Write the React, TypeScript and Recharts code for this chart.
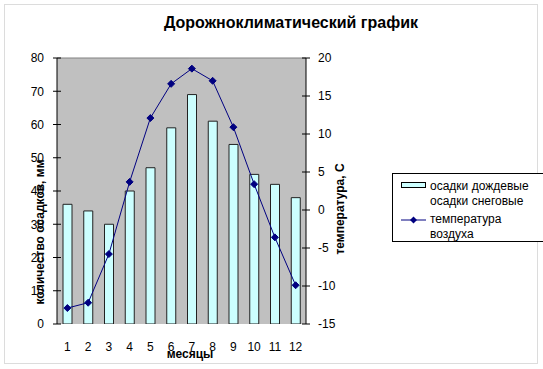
import React from 'react';
import { ComposedChart, Bar, Line, XAxis, YAxis, CartesianGrid, ReferenceLine } from 'recharts';

const months = ['1', '2', '3', '4', '5', '6', '7', '8', '9', '10', '11', '12'];
const precipitation = [36, 34, 30, 40, 47, 59, 69, 61, 54, 45, 42, 38];
const temperature = [-12.9, -12.2, -5.8, 3.7, 12.1, 16.6, 18.6, 17, 10.9, 3.4, -3.6, -9.9];
const precipTicks = [0, 10, 20, 30, 40, 50, 60, 70, 80];
const tempTicks = [-15, -10, -5, 0, 5, 10, 15, 20];
const boundaryTicks = [0, 1, 2, 3, 4, 5, 6, 7, 8, 9, 10, 11, 12];

const data = months.map((m, i) => ({ month: m, precip: precipitation[i], temp: temperature[i] }));

const FONT = 'Arial, "Liberation Sans", sans-serif';
const NAVY = '#000080';
const TICK_SIZE = 5;
const TICK_GAP = 8;

const Diamond = (props: any) => {
  const { cx, cy, index } = props;
  if (cx == null || cy == null) return <g key={`d-${index}`} />;
  const r = 3.5;
  return (
    <path
      key={`d-${index}`}
      d={`M${cx},${cy - r}L${cx + r},${cy}L${cx},${cy + r}L${cx - r},${cy}Z`}
      fill={NAVY}
      stroke={NAVY}
    />
  );
};

// ticks that cross the axis line, the way Excel draws them
const leftTick = (p: any) => {
  const ax = p.x + TICK_SIZE + TICK_GAP;
  return (
    <g>
      <line x1={ax - 4} x2={ax + 4} y1={p.y} y2={p.y} stroke="#000" />
      <text x={p.x} y={p.y} dy="0.355em" textAnchor="end" fontSize={12} fontFamily={FONT} fill="#000">
        {p.payload.value}
      </text>
    </g>
  );
};

const rightTick = (p: any) => {
  const ax = p.x - TICK_SIZE - TICK_GAP;
  return (
    <g>
      <line x1={ax - 4} x2={ax + 4} y1={p.y} y2={p.y} stroke="#000" />
      <text x={p.x - 1} y={p.y} dy="0.355em" textAnchor="start" fontSize={12} fontFamily={FONT} fill="#000">
        {p.payload.value}
      </text>
    </g>
  );
};

const boundaryTick = (p: any) => {
  const ay = p.y - 0 - 0;
  return <line x1={p.x} x2={p.x} y1={ay - 4} y2={ay + 4} stroke="#000" />;
};

export default function App() {
  return (
    <div
      style={{
        position: 'absolute',
        left: 0,
        top: 0,
        width: 543,
        height: 369,
        overflow: 'hidden',
        background: '#fff',
        fontFamily: FONT,
      }}
    >
      {/* outer chart frame */}
      <div
        style={{
          position: 'absolute',
          left: 4,
          top: 4,
          width: 532,
          height: 358,
          border: '1px solid #dcdcdc',
        }}
      />

      <div
        style={{
          position: 'absolute',
          left: 0,
          top: 14,
          width: 582,
          textAlign: 'center',
          fontSize: 16,
          fontWeight: 'bold',
          color: '#000',
        }}
      >
        Дорожноклиматический график
      </div>

      <div style={{ position: 'absolute', left: 0, top: 0 }}>
        <ComposedChart
          width={543}
          height={369}
          data={data}
          margin={{ top: 58, left: 17, right: 197, bottom: 15 }}
        >
          <CartesianGrid xAxisId="cat" yAxisId="p" fill="#c0c0c0" horizontal={false} vertical={false} />
          <ReferenceLine yAxisId="p" xAxisId="cat" y={80} stroke="#808080" />
          <XAxis
            xAxisId="grid"
            type="number"
            domain={[0, 12]}
            ticks={boundaryTicks}
            height={0}
            tickSize={0}
            tickMargin={0}
            tick={boundaryTick}
            tickLine={false}
            axisLine={{ stroke: '#000' }}
            allowDataOverflow
          />
          <XAxis
            xAxisId="cat"
            dataKey="month"
            height={30}
            axisLine={false}
            tickLine={false}
            tickSize={0}
            tickMargin={18}
            tick={{ fill: '#000', fontSize: 12, fontFamily: FONT }}
            interval={0}
          />
          <YAxis
            yAxisId="p"
            domain={[0, 80]}
            ticks={precipTicks}
            width={40}
            tickSize={TICK_SIZE}
            tickMargin={TICK_GAP}
            tick={leftTick}
            tickLine={false}
            axisLine={{ stroke: '#000' }}
            allowDataOverflow
          />
          <YAxis
            yAxisId="t"
            orientation="right"
            domain={[-15, 20]}
            ticks={tempTicks}
            width={40}
            tickSize={TICK_SIZE}
            tickMargin={TICK_GAP}
            tick={rightTick}
            tickLine={false}
            axisLine={{ stroke: '#000' }}
            allowDataOverflow
          />
          <Bar
            xAxisId="cat"
            yAxisId="p"
            dataKey="precip"
            barSize={9}
            fill="#ccffff"
            stroke="#222"
            strokeWidth={1}
            isAnimationActive={false}
          />
          <Line
            xAxisId="cat"
            yAxisId="t"
            dataKey="temp"
            type="linear"
            stroke={NAVY}
            strokeWidth={1}
            dot={Diamond}
            activeDot={false}
            isAnimationActive={false}
          />
        </ComposedChart>
      </div>

      {/* axis titles */}
      <div
        style={{
          position: 'absolute',
          left: 40,
          top: 232,
          transform: 'translate(-50%, -50%) rotate(-90deg)',
          whiteSpace: 'nowrap',
          fontSize: 12,
          fontWeight: 'bold',
          color: '#000',
        }}
      >
        количество осадков, мм
      </div>
      <div
        style={{
          position: 'absolute',
          left: 340,
          top: 209,
          transform: 'translate(-50%, -50%) rotate(-90deg)',
          whiteSpace: 'nowrap',
          fontSize: 12,
          fontWeight: 'bold',
          color: '#000',
        }}
      >
        температура, С
      </div>
      <div
        style={{
          position: 'absolute',
          left: 190,
          top: 354,
          transform: 'translate(-50%, -50%)',
          whiteSpace: 'nowrap',
          fontSize: 12,
          fontWeight: 'bold',
          color: '#000',
        }}
      >
        месяцы
      </div>

      {/* legend */}
      <div
        style={{
          position: 'absolute',
          left: 392,
          top: 173,
          width: 170,
          height: 67,
          border: '1px solid #000',
          background: '#fff',
        }}
      >
        <svg width={34} height={67} style={{ position: 'absolute', left: 0, top: 0 }}>
          <rect x={8.5} y={8.5} width={24} height={5} fill="#ccffff" stroke="#000" />
          <line x1={8} y1={46} x2={33} y2={46} stroke={NAVY} strokeWidth={1} />
          <path d="M20.5,42.5L24,46L20.5,49.5L17,46Z" fill={NAVY} />
        </svg>
        <div
          style={{
            position: 'absolute',
            left: 37,
            top: 5,
            fontSize: 12,
            lineHeight: '14.5px',
            color: '#000',
            whiteSpace: 'nowrap',
          }}
        >
          <div>осадки дождевые</div>
          <div>осадки снеговые</div>
          <div style={{ marginTop: 4 }}>температура</div>
          <div>воздуха</div>
        </div>
      </div>
    </div>
  );
}
